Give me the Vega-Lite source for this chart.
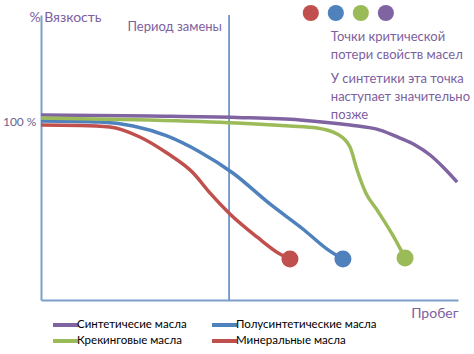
{
  "$schema": "https://vega.github.io/schema/vega-lite/v6.json",
  "width": 417,
  "height": 285,
  "autosize": {"type": "none"},
  "padding": {"left": 41, "top": 15, "right": 16, "bottom": 54},
  "background": "white",
  "config": {
    "view": {"stroke": null},
    "font": "Lato",
    "axis": {"grid": false, "ticks": false, "domainColor": "#7f9fcb", "domainWidth": 2}
  },
  "datasets": {
    "curves": [
      {"oil": "Синтетичесие масла", "x": 0, "y": 103.9},
      {"oil": "Синтетичесие масла", "x": 26.1, "y": 103.3},
      {"oil": "Синтетичесие масла", "x": 47.0, "y": 102.5},
      {"oil": "Синтетичесие масла", "x": 62.1, "y": 101.1},
      {"oil": "Синтетичесие масла", "x": 74.1, "y": 98.2},
      {"oil": "Синтетичесие масла", "x": 81.3, "y": 95.4},
      {"oil": "Синтетичесие масла", "x": 86.1, "y": 90.9},
      {"oil": "Синтетичесие масла", "x": 89.7, "y": 87.0},
      {"oil": "Синтетичесие масла", "x": 93.3, "y": 81.4},
      {"oil": "Синтетичесие масла", "x": 96.4, "y": 74.7},
      {"oil": "Синтетичесие масла", "x": 99.8, "y": 66.2},
      {"oil": "Полусинтетические масла", "x": 0, "y": 100.5},
      {"oil": "Полусинтетические масла", "x": 14.1, "y": 99.9},
      {"oil": "Полусинтетические масла", "x": 22.1, "y": 97.7},
      {"oil": "Полусинтетические масла", "x": 30.2, "y": 92.1},
      {"oil": "Полусинтетические масла", "x": 38.1, "y": 83.1},
      {"oil": "Полусинтетические масла", "x": 46.0, "y": 71.3},
      {"oil": "Полусинтетические масла", "x": 54.9, "y": 53.9},
      {"oil": "Полусинтетические масла", "x": 63.1, "y": 39.3},
      {"oil": "Полусинтетические масла", "x": 68.6, "y": 28.6},
      {"oil": "Полусинтетические масла", "x": 72.4, "y": 23.0},
      {"oil": "Крекинговые масла", "x": 0, "y": 102.2},
      {"oil": "Крекинговые масла", "x": 26.1, "y": 101.1},
      {"oil": "Крекинговые масла", "x": 47.0, "y": 99.4},
      {"oil": "Крекинговые масла", "x": 59.7, "y": 97.7},
      {"oil": "Крекинговые масла", "x": 66.2, "y": 96.6},
      {"oil": "Крекинговые масла", "x": 71.0, "y": 93.2},
      {"oil": "Крекинговые масла", "x": 74.1, "y": 85.9},
      {"oil": "Крекинговые масла", "x": 75.8, "y": 73.0},
      {"oil": "Крекинговые масла", "x": 77.9, "y": 60.1},
      {"oil": "Крекинговые масла", "x": 80.6, "y": 50.5},
      {"oil": "Крекинговые масла", "x": 84.6, "y": 35.4},
      {"oil": "Крекинговые масла", "x": 87.3, "y": 23.6},
      {"oil": "Минеральные масла", "x": 0, "y": 98.2},
      {"oil": "Минеральные масла", "x": 9.4, "y": 98.0},
      {"oil": "Минеральные масла", "x": 16.5, "y": 97.1},
      {"oil": "Минеральные масла", "x": 23.7, "y": 91.5},
      {"oil": "Минеральные масла", "x": 30.2, "y": 82.5},
      {"oil": "Минеральные масла", "x": 36.5, "y": 71.3},
      {"oil": "Минеральные масла", "x": 40.5, "y": 60.1},
      {"oil": "Минеральные масла", "x": 45.3, "y": 48.3},
      {"oil": "Минеральные масла", "x": 51.8, "y": 35.4},
      {"oil": "Минеральные масла", "x": 57.3, "y": 25.8},
      {"oil": "Минеральные масла", "x": 59.7, "y": 23.0}
    ],
    "ends": [
      {"oil": "Минеральные масла", "x": 59.7, "y": 23.0},
      {"oil": "Полусинтетические масла", "x": 72.4, "y": 23.0},
      {"oil": "Крекинговые масла", "x": 87.3, "y": 23.6}
    ],
    "dots": [
      {"oil": "Минеральные масла", "x": 64.7, "y": 161.1},
      {"oil": "Полусинтетические масла", "x": 70.7, "y": 161.1},
      {"oil": "Крекинговые масла", "x": 76.7, "y": 161.1},
      {"oil": "Синтетичесие масла", "x": 82.7, "y": 161.1}
    ],
    "notesRight": [
      {"x": 43.4, "y": 153.3, "t": "Период замены"}
    ],
    "notesLeft": [
      {"x": 69.5, "y": 147.6, "t": "Точки критической"},
      {"x": 69.5, "y": 137.5, "t": "потери свойств масел"},
      {"x": 69.5, "y": 124.1, "t": "У синтетики эта точка"},
      {"x": 69.5, "y": 114.0, "t": "наступает значительно"},
      {"x": 69.5, "y": 103.9, "t": "позже"}
    ]
  },
  "resolve": {"scale": {"color": "independent"}, "legend": {"color": "independent"}},
  "layer": [
    {
      "data": {"values": [{"x": 45.1}]},
      "mark": {"type": "rule", "color": "#4f81bd", "strokeWidth": 1.5},
      "encoding": {
        "x": {"field": "x", "type": "quantitative", "scale": {"domain": [0, 100], "nice": false},
              "axis": {"values": [], "labels": false, "title": "Пробег", "titleAnchor": "end", "titleAlign": "right", "titleBaseline": "middle", "titleX": 417, "titleY": 13, "titleColor": "#7d60a0", "titleFontSize": 14, "titleFontWeight": "normal", "titleFont": "Lato"}}
      }
    },
    {
      "data": {"name": "curves"},
      "mark": {"type": "line", "strokeWidth": 3.5, "interpolate": "monotone"},
      "encoding": {
        "x": {"field": "x", "type": "quantitative"},
        "y": {"field": "y", "type": "quantitative", "scale": {"domain": [0, 160], "nice": false},
              "axis": {"values": [100], "labelExpr": "'100 %'", "labelColor": "#6e5f8e", "labelFontSize": 12, "labelPadding": 5,
                       "title": "% Вязкость", "titleAngle": 0, "titleAlign": "left", "titleBaseline": "middle", "titleX": -12, "titleY": 2, "titleColor": "#7d60a0", "titleFontSize": 14, "titleFontWeight": "normal"}},
        "color": {"field": "oil", "type": "nominal",
                  "scale": {"domain": ["Синтетичесие масла", "Полусинтетические масла", "Крекинговые масла", "Минеральные масла"], "range": ["#8064a2", "#4f81bd", "#9bbb59", "#c0504d"]},
                  "legend": {"title": null, "orient": "none", "legendX": 16.5, "legendY": 302, "columns": 2, "direction": "horizontal", "symbolType": "M-2.08,0H2.08", "symbolSize": 144, "symbolStrokeWidth": 4, "labelFontSize": 11.5, "labelColor": "#000000", "labelFont": "Lato", "columnPadding": 16, "rowPadding": -3, "padding": 0, "labelOffset": 3.5, "labelLimit": 200}},
        "order": {"field": "x", "type": "quantitative"}
      }
    },
    {
      "data": {"name": "ends"},
      "mark": {"type": "circle", "size": 290, "opacity": 1},
      "encoding": {
        "x": {"field": "x", "type": "quantitative"},
        "y": {"field": "y", "type": "quantitative"},
        "color": {"field": "oil", "type": "nominal", "legend": null,
                  "scale": {"domain": ["Синтетичесие масла", "Полусинтетические масла", "Крекинговые масла", "Минеральные масла"], "range": ["#8064a2", "#4f81bd", "#9bbb59", "#c0504d"]}}
      }
    },
    {
      "data": {"name": "dots"},
      "mark": {"type": "circle", "size": 260, "opacity": 1},
      "encoding": {
        "x": {"field": "x", "type": "quantitative"},
        "y": {"field": "y", "type": "quantitative"},
        "color": {"field": "oil", "type": "nominal", "legend": null,
                  "scale": {"domain": ["Синтетичесие масла", "Полусинтетические масла", "Крекинговые масла", "Минеральные масла"], "range": ["#8064a2", "#4f81bd", "#9bbb59", "#c0504d"]}}
      }
    },
    {
      "data": {"name": "notesRight"},
      "mark": {"type": "text", "fontSize": 13, "color": "#7d60a0", "baseline": "middle", "align": "right", "font": "Lato"},
      "encoding": {
        "x": {"field": "x", "type": "quantitative"},
        "y": {"field": "y", "type": "quantitative"},
        "text": {"field": "t"}
      }
    },
    {
      "data": {"name": "notesLeft"},
      "mark": {"type": "text", "fontSize": 13, "color": "#7d60a0", "baseline": "middle", "align": "left", "font": "Lato"},
      "encoding": {
        "x": {"field": "x", "type": "quantitative"},
        "y": {"field": "y", "type": "quantitative"},
        "text": {"field": "t"}
      }
    }
  ]
}
